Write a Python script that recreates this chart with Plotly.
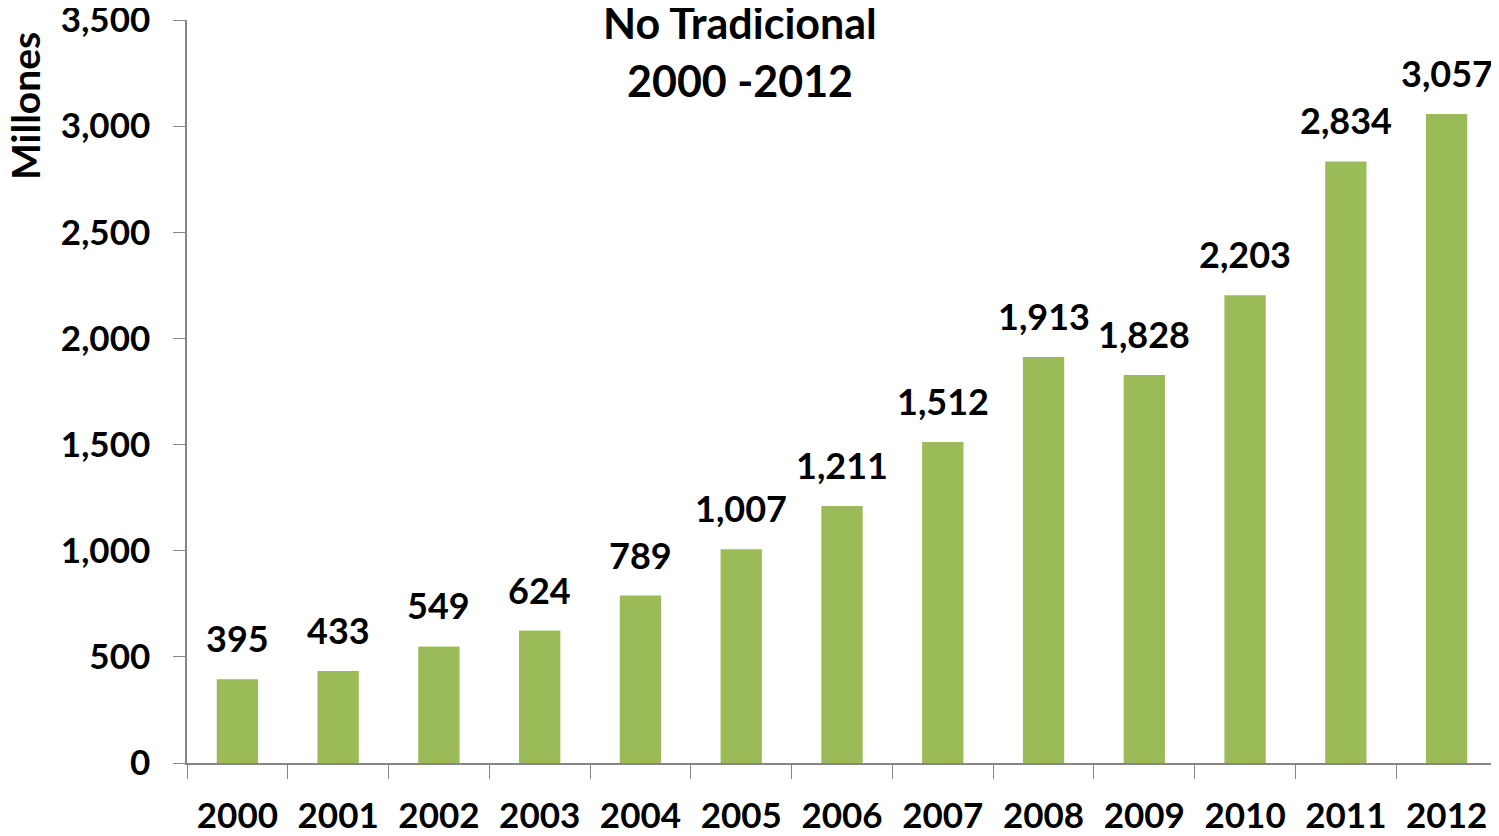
import plotly.graph_objects as go

years = ["2000", "2001", "2002", "2003", "2004", "2005", "2006", "2007", "2008", "2009", "2010", "2011", "2012"]
values = [395, 433, 549, 624, 789, 1007, 1211, 1512, 1913, 1828, 2203, 2834, 3057]
y_ticks = [0, 500, 1000, 1500, 2000, 2500, 3000, 3500]
title_lines = ["No Tradicional", "2000 -2012"]
y_title = "Millones"

FONT = "Lato"
# page body has an 8px margin: figure is drawn offset by (8, 8)
L, T, PW, PH = 179, 12, 1310, 743
W, H = 1491, 828

fig = go.Figure()
fig.add_trace(go.Bar(x=years, y=values, marker=dict(color="#9BBB59", line=dict(width=0)), width=0.41))

for i, v in enumerate(values):
    fig.add_annotation(x=i, y=v, text=f"{v:,}", showarrow=False, yanchor="bottom", yshift=17,
                       font=dict(family=FONT, size=36, color="black", weight="bold"))

fig.add_annotation(xref="paper", yref="paper", x=(17 - L) / PW, y=(PH + T - 22) / PH, xanchor="center", yanchor="top",
                   text=y_title, textangle=-90, showarrow=False,
                   font=dict(family=FONT, size=39, color="black", weight="bold"))

for k, line in enumerate(title_lines):
    fig.add_annotation(xref="paper", yref="paper", x=(732 - L) / PW, y=(PH + T - 14 - 58 * k) / PH,
                       xanchor="center", yanchor="middle", text=line, showarrow=False,
                       font=dict(family=FONT, size=43, color="black", weight="bold"))

fig.update_layout(
    width=W, height=H,
    margin=dict(l=L, r=W - L - PW, t=T, b=H - T - PH, autoexpand=False),
    plot_bgcolor="white", paper_bgcolor="white",
    showlegend=False,
    xaxis=dict(type="category", tickson="boundaries", ticks="outside", ticklen=14, tickcolor="#868686",
               showline=True, linecolor="#868686", linewidth=1.5, showgrid=False, automargin=False,
               tickangle=0, range=[-0.5, 12.5], ticklabelstandoff=21,
               tickfont=dict(family=FONT, size=35, color="black", weight="bold")),
    yaxis=dict(range=[0, 3500], tickmode="array", tickvals=y_ticks, ticktext=[f"{t:,}" for t in y_ticks],
               ticks="outside", ticklen=12, tickcolor="#868686", ticklabeloverflow="allow",
               showline=True, linecolor="#868686", linewidth=1.5, showgrid=False, zeroline=False,
               automargin=False, ticklabelstandoff=16,
               tickfont=dict(family=FONT, size=35, color="black", weight="bold")),
)
fig.write_html("out.html")
